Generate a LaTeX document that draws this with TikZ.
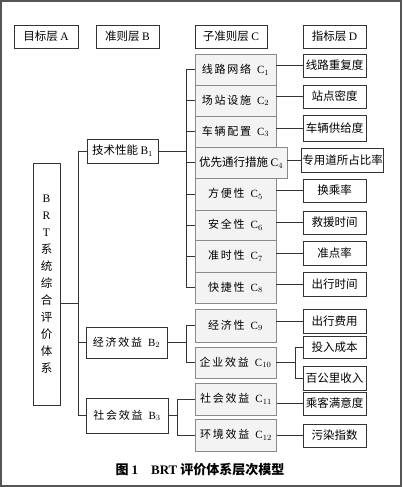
\documentclass[tikz,border=0pt]{standalone}
\usepackage{fontspec}
\setmainfont{Liberation Serif}
\newfontfamily\cjk{Noto Sans CJK SC}
\newfontfamily\cjkwide[LetterSpace=16]{Noto Sans CJK SC}
\usetikzlibrary{positioning}
\definecolor{ink}{HTML}{333333}
\definecolor{frame}{HTML}{555555}
\definecolor{subline}{HTML}{8A8A8A}
\definecolor{subfill}{HTML}{F3F3F3}
\tikzset{
  font=\cjk\fontsize{11.5}{13}\selectfont,
  box/.style={draw=ink, fill=white, line width=0.8pt, inner sep=1pt, minimum height=23pt, align=center},
  header/.style={box, minimum width=63pt},
  crit/.style={box, font=\cjkwide\fontsize{11}{13}\selectfont},
  subbox/.style={crit, draw=subline, fill=subfill, minimum width=81pt, minimum height=31pt},
  ind/.style={box, minimum width=63pt, minimum height=23pt},
  link/.style={draw=ink, line width=0.8pt}
}
\newcommand{\lbl}[2]{\textrm{#1}$_{#2}$}

\begin{document}
\begin{tikzpicture}[x=1pt, y=-1pt]
  \useasboundingbox (0,0) rectangle (402,487);
  \draw[frame, line width=1.2pt] (1,1) rectangle (401,486);

  % layer headers
  \node[header, minimum width=64pt] (hA) at (46,36.5) {目标层 \textrm{A}};
  \node[header] (hB) at (127.5,36.5) {准则层 \textrm{B}};
  \node[header, minimum width=72pt] (hC) at (231,36.5) {子准则层 \textrm{C}};
  \node[header] (hD) at (334.5,36.5) {指标层 \textrm{D}};

  % goal
  \node[box, minimum width=27pt, minimum height=242pt, font=\cjk\fontsize{11.5}{17}\selectfont] (a) at (46.5,284)
    {\textrm{B}\\\textrm{R}\\\textrm{T}\\系\\统\\综\\合\\评\\价\\体\\系};

  % criteria
  \node[box, minimum width=71pt, minimum height=24pt] (b1) at (122.5,151) {技术性能 \lbl{B}{1}};
  \node[crit, minimum width=81pt, minimum height=31pt] (b2) at (126.5,342.5) {经济效益 \lbl{B}{2}};
  \node[crit, minimum width=82pt, minimum height=35pt] (b3) at (127,415.5) {社会效益 \lbl{B}{3}};

  % sub-criteria
  \node[subbox] (c1) at (235.5,69.5) {线路网络 \lbl{C}{1}};
  \node[subbox] (c2) at (235.5,100.5) {场站设施 \lbl{C}{2}};
  \node[subbox] (c3) at (235.5,131.5) {车辆配置 \lbl{C}{3}};
  \node[subbox, minimum width=92pt, font=\cjk\fontsize{11.5}{13}\selectfont] (c4) at (241,162.5) {优先通行措施 \lbl{C}{4}};
  \node[subbox, minimum height=32pt] (c5) at (235.5,194) {方便性 \lbl{C}{5}};
  \node[subbox, minimum height=30pt] (c6) at (235.5,225) {安全性 \lbl{C}{6}};
  \node[subbox, minimum height=32pt] (c7) at (235.5,256) {准时性 \lbl{C}{7}};
  \node[subbox] (c8) at (235.5,287.5) {快捷性 \lbl{C}{8}};
  \node[subbox, minimum height=33pt] (c9) at (235.5,325.5) {经济性 \lbl{C}{9}};
  \node[subbox] (c10) at (235.5,362.5) {企业效益 \lbl{C}{10}};
  \node[subbox, minimum height=32pt] (c11) at (236,399) {社会效益 \lbl{C}{11}};
  \node[subbox, minimum height=32pt] (c12) at (236,435) {环境效益 \lbl{C}{12}};

  % indicators
  \node[ind] (d1) at (334.5,65.5) {线路重复度};
  \node[ind] (d2) at (334.5,96.5) {站点密度};
  \node[ind, minimum height=26pt] (d3) at (334.5,128.5) {车辆供给度};
  \node[ind, minimum width=79pt, minimum height=24pt] (d4) at (342.5,160) {专用道所占比率};
  \node[ind] (d5) at (334.5,190.5) {换乘率};
  \node[ind] (d6) at (334.5,222.5) {救援时间};
  \node[ind, minimum height=24pt] (d7) at (334.5,253) {准点率};
  \node[ind, minimum height=24pt] (d8) at (334.5,284) {出行时间};
  \node[ind, minimum height=24pt] (d9) at (334.5,321) {出行费用};
  \node[ind, minimum height=22pt] (d10a) at (334.5,347) {投入成本};
  \node[ind, minimum height=24pt] (d10b) at (334.5,378) {百公里收入};
  \node[ind] (d11) at (334.5,403.5) {乘客满意度};
  \node[ind] (d12) at (334.5,435.5) {污染指数};

  % junctions
  \coordinate (ja) at (78,303);
  \coordinate (j1) at (186,151);
  \coordinate (j2) at (186,342.5);
  \coordinate (j3) at (177,415.5);
  \coordinate (j10) at (295,362.5);

  % goal -> criteria
  \draw[link] (a.east |- ja) -- (ja);
  \draw[link] (ja |- b1.west) -- (ja |- b3.west);
  \foreach \b in {b1,b2,b3}
    \draw[link] (\b.west) -- (\b.west -| ja);

  % criteria -> sub-criteria
  \draw[link] (b1.east) -- (j1);
  \draw[link] (j1 |- c1.west) -- (j1 |- c8.west);
  \foreach \i in {1,...,8}
    \draw[link] (c\i.west) -- (c\i.west -| j1);
  \draw[link] (b2.east) -- (j2);
  \draw[link] (j2 |- c9.west) -- (j2 |- c10.west);
  \foreach \i in {9,10}
    \draw[link] (c\i.west) -- (c\i.west -| j2);
  \draw[link] (b3.east) -- (j3);
  \draw[link] (j3 |- c11.west) -- (j3 |- c12.west);
  \foreach \i in {11,12}
    \draw[link] (c\i.west) -- (c\i.west -| j3);

  % sub-criteria -> indicators
  \foreach \i in {1,...,9,11,12}
    \draw[link] (d\i.west -| c\i.east) -- (d\i.west);
  \draw[link] (c10.east) -- (j10);
  \draw[link] (j10 |- d10a.west) -- (j10 |- d10b.west);
  \draw[link] (d10a.west) -- (d10a.west -| j10);
  \draw[link] (d10b.west) -- (d10b.west -| j10);

  \node[font=\cjk\bfseries\fontsize{13}{15}\selectfont] (title) at (200,470)
    {图 \textrm{1}\quad \textrm{BRT} 评价体系层次模型};
\end{tikzpicture}
\end{document}
